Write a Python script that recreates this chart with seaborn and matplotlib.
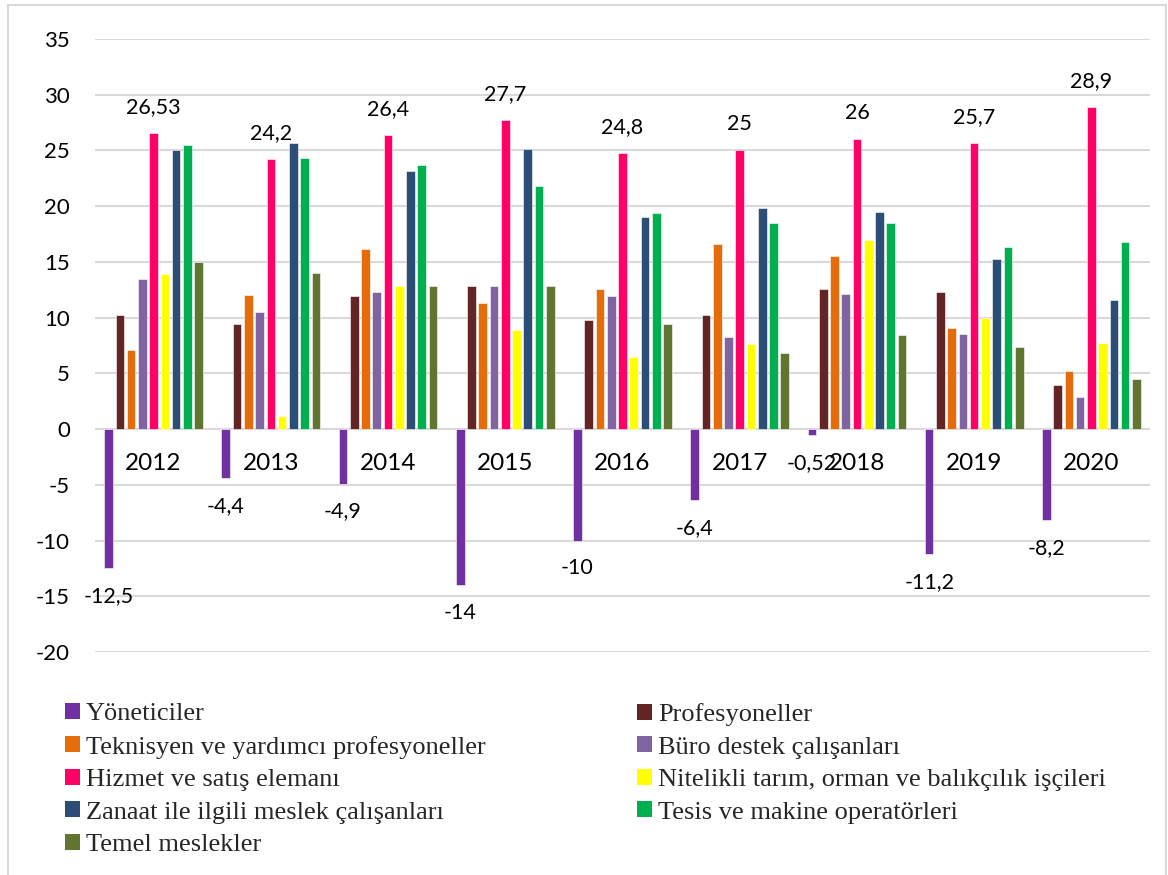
import numpy as np
import pandas as pd
import seaborn as sns
import matplotlib.pyplot as plt
from matplotlib.patches import Patch, Rectangle

# Data
years = ['2012', '2013', '2014', '2015', '2016', '2017', '2018', '2019', '2020']
occupations = [
    'Yöneticiler',
    'Profesyoneller',
    'Teknisyen ve yardımcı profesyoneller',
    'Büro destek çalışanları',
    'Hizmet ve satış elemanı',
    'Nitelikli tarım, orman ve balıkçılık işçileri',
    'Zanaat ile ilgili meslek çalışanları',
    'Tesis ve makine operatörleri',
    'Temel meslekler',
]
yoneticiler = [-12.5, -4.4, -4.9, -14, -10, -6.4, -0.52, -11.2, -8.2]
profesyoneller = [10.2, 9.4, 11.9, 12.8, 9.8, 10.2, 12.6, 12.3, 4.0]
teknisyen = [7.1, 12.0, 16.2, 11.3, 12.6, 16.6, 15.5, 9.1, 5.2]
buro = [13.5, 10.5, 12.3, 12.8, 11.9, 8.3, 12.1, 8.5, 2.9]
hizmet = [26.53, 24.2, 26.4, 27.7, 24.8, 25, 26, 25.7, 28.9]
nitelikli = [13.9, 1.2, 12.8, 8.9, 6.5, 7.6, 17.0, 10.0, 7.7]
zanaat = [25.0, 25.7, 23.2, 25.1, 19.0, 19.8, 19.5, 15.3, 11.6]
tesis = [25.5, 24.3, 23.7, 21.8, 19.4, 18.5, 18.5, 16.3, 16.8]
temel = [15.0, 14.0, 12.8, 12.8, 9.4, 6.8, 8.4, 7.4, 4.5]

colors = ['#7030A0', '#632523', '#E46C0A', '#8064A2', '#FF0066',
          '#FFFF00', '#2C4D75', '#00B050', '#607530']

series = [yoneticiler, profesyoneller, teknisyen, buro, hizmet,
          nitelikli, zanaat, tesis, temel]

rows = []
for name, vals in zip(occupations, series):
    for yr, v in zip(years, vals):
        rows.append({'yil': yr, 'meslek': name, 'deger': v})
df = pd.DataFrame(rows)

sns.set_theme(style='white')
plt.rcParams['font.family'] = ['Lato', 'DejaVu Sans']

fig = plt.figure(figsize=(11.68, 8.75), dpi=100)
ax = fig.add_axes([95 / 1168, 1 - 652 / 875, 1055 / 1168, 613 / 875])

sns.barplot(data=df, x='yil', y='deger', hue='meslek', hue_order=occupations,
            order=years, palette=colors, saturation=1, width=0.864, gap=0.23,
            edgecolor='white', linewidth=0.4, legend=False, ax=ax, zorder=3)

ax.set_ylim(-20, 35)
ax.set_xlim(-0.5, len(years) - 0.5)
ax.set_yticks(np.arange(-20, 36, 5))
ax.set_yticklabels([str(t) for t in range(-20, 36, 5)], fontsize=16, color='black')
ax.tick_params(axis='y', length=0, pad=18)
ax.set_xticks([])
ax.set_xlabel('')
ax.set_ylabel('')
ax.yaxis.grid(True, color='#d9d9d9', linewidth=1.5, zorder=0)
ax.set_axisbelow(True)
for s in ax.spines.values():
    s.set_visible(False)


def fmt(v):
    return f'{v:g}'.replace('.', ',')


# year labels just below the zero line
for i, yr in enumerate(years):
    ax.annotate(yr, (i, 0), xytext=(0, -24.5), textcoords='offset points',
                ha='center', va='center', fontsize=17.5, color='black', zorder=5)

# data labels for Yöneticiler and Hizmet
for bar, v in zip(ax.containers[0], yoneticiler):
    ax.annotate(fmt(v), (bar.get_x() + bar.get_width() / 2, v), xytext=(0, -20),
                textcoords='offset points', ha='center', va='center',
                fontsize=15.5, color='black', zorder=5)
for bar, v in zip(ax.containers[4], hizmet):
    ax.annotate(fmt(v), (bar.get_x() + bar.get_width() / 2, v), xytext=(0, 18.7),
                textcoords='offset points', ha='center', va='center',
                fontsize=15.5, color='black', zorder=5, annotation_clip=False)

# legend laid out as two columns, row-wise like the original
handles = [Patch(facecolor=c, edgecolor='none') for c in colors]
left_idx = [0, 2, 4, 6, 8]
right_idx = [1, 3, 5, 7]
leg_kw = dict(frameon=False, borderpad=0, borderaxespad=0, handlelength=0.55,
              handleheight=0.55, handletextpad=0.25, labelspacing=0.39,
              prop={'family': 'Liberation Serif', 'size': 19}, loc='upper left')
leg1 = fig.legend([handles[i] for i in left_idx], [occupations[i] for i in left_idx],
                  bbox_to_anchor=(65 / 1168, 1 - 703 / 875), **leg_kw)
leg2 = fig.legend([handles[i] for i in right_idx], [occupations[i] for i in right_idx],
                  bbox_to_anchor=(637 / 1168, 1 - 703 / 875), **leg_kw)

# light chart-area frame
fig.patches.append(Rectangle((8 / 1168, -0.02), 1158 / 1168, 1.02 - 5 / 875,
                             transform=fig.transFigure, fill=False,
                             edgecolor='#d9d9d9', linewidth=1.5))

fig.savefig('out.png', dpi=100, facecolor='white')
